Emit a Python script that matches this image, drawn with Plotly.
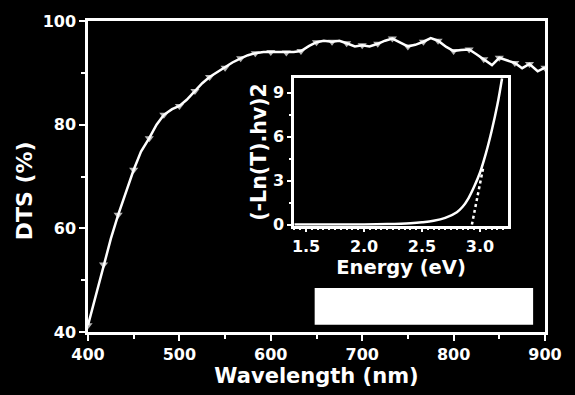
import plotly.graph_objects as go

# Main spectrum
wavelength = [400, 408, 417, 425, 433, 442, 450, 458, 467, 475, 483, 492, 500, 508, 517, 525,
              533, 542, 550, 558, 567, 575, 583, 592, 600, 608, 617, 625, 633, 642, 650, 658,
              667, 675, 683, 692, 700, 708, 717, 725, 733, 742, 750, 758, 767, 775, 783, 792,
              800, 808, 817, 825, 833, 842, 850, 858, 867, 875, 883, 892, 900]
dts = [41.3, 46.8, 53.0, 58.0, 62.6, 67.2, 71.3, 74.8, 77.4, 80.0, 81.9, 83.0, 83.6, 84.8, 86.5, 88.0,
       89.2, 90.2, 91.0, 92.0, 92.8, 93.4, 93.8, 94.0, 94.0, 94.0, 93.9, 94.0, 94.2, 95.2, 95.9, 96.2,
       96.0, 96.2, 95.7, 95.1, 95.3, 95.1, 95.6, 96.2, 96.6, 95.8, 95.1, 95.4, 96.0, 96.7, 96.2, 95.0,
       94.2, 94.4, 94.5, 93.6, 92.6, 91.5, 92.9, 92.4, 91.9, 90.9, 91.7, 90.3, 91.0]

# Inset Tauc plot
energy = [1.40, 1.60, 1.80, 2.00, 2.20, 2.40, 2.50, 2.60, 2.70, 2.80, 2.85, 2.90, 2.95,
          3.00, 3.05, 3.10, 3.15, 3.19]
tauc = [0.0, 0.0, 0.0, 0.01, 0.04, 0.10, 0.16, 0.26, 0.46, 0.85, 1.22, 1.8, 2.6,
        3.56, 4.85, 6.4, 8.2, 10.0]
tangent_e = [2.93, 3.03]
tangent_y = [0.0, 4.0]

# Axis ticks
main_xticks = [400, 500, 600, 700, 800, 900]
main_yticks = [40, 60, 80, 100]
inset_xticks = [1.5, 2.0, 2.5, 3.0]
inset_yticks = [0, 3, 6, 9]

# White box (redaction block) in data coords
box_x = [648, 887]
box_y = [41.4, 48.5]

FONT = "DejaVu Sans"
W = "white"

fig = go.Figure()

marker_sizes = [8 if i % 2 == 0 else 0 for i in range(len(wavelength))]
fig.add_trace(go.Scatter(
    x=wavelength, y=dts, mode="lines+markers",
    line=dict(color=W, width=2.5),
    marker=dict(symbol="triangle-down", size=marker_sizes, color=W, line=dict(width=0)),
    xaxis="x", yaxis="y", showlegend=False))

fig.add_trace(go.Scatter(
    x=energy, y=tauc, mode="lines", line=dict(color=W, width=2.5, shape="spline"),
    xaxis="x2", yaxis="y2", showlegend=False))
fig.add_trace(go.Scatter(
    x=tangent_e, y=tangent_y, mode="lines", line=dict(color=W, width=2.5, dash="dot"),
    xaxis="x2", yaxis="y2", showlegend=False))

fig.add_shape(type="rect", xref="x", yref="y", x0=box_x[0], x1=box_x[1], y0=box_y[0], y1=box_y[1],
              fillcolor=W, line=dict(width=0), layer="above")

fig.add_annotation(text="DTS (%)", xref="paper", yref="paper", x=-0.14, y=0.4525,
                   textangle=-90, showarrow=False, xanchor="center", yanchor="middle",
                   font=dict(family=FONT, size=22, color=W, weight="bold"))

tickfont = dict(family=FONT, size=16, color=W, weight="bold")

fig.update_layout(
    width=575, height=395,
    paper_bgcolor="black", plot_bgcolor="black",
    margin=dict(l=88, r=30, t=16, b=63),
    font=dict(family=FONT, color=W),
    xaxis=dict(
        domain=[0, 1], range=[400, 900], tickvals=main_xticks,
        showgrid=False, zeroline=False, showline=True, linecolor=W, linewidth=2.5, mirror=True,
        ticks="outside", ticklen=6, tickwidth=2, tickcolor=W, tickfont=tickfont,
        minor=dict(dtick=50, tick0=400, ticks="outside", ticklen=4, tickwidth=2, tickcolor=W, showgrid=False),
        title=dict(text="Wavelength (nm)", font=dict(family=FONT, size=21, color=W, weight="bold"), standoff=3),
        anchor="y"),
    yaxis=dict(
        domain=[0, 1], range=[40, 100], tickvals=main_yticks,
        showgrid=False, zeroline=False, showline=True, linecolor=W, linewidth=2.5, mirror=True,
        ticks="outside", ticklen=6, tickwidth=2, tickcolor=W, tickfont=tickfont,
        minor=dict(dtick=10, tick0=40, ticks="outside", ticklen=4, tickwidth=2, tickcolor=W, showgrid=False),
        anchor="x"),
    xaxis2=dict(
        domain=[0.451, 0.919], range=[1.397, 3.241], tickvals=inset_xticks,
        ticktext=["1.5", "2.0", "2.5", "3.0"],
        showgrid=False, zeroline=False, showline=True, linecolor=W, linewidth=2.5, mirror=True,
        ticks="outside", ticklen=4, tickwidth=2, tickcolor=W, tickfont=tickfont,
        minor=dict(dtick=0.05, tick0=1.4, ticks="outside", ticklen=2, tickwidth=1.5, tickcolor=W, showgrid=False),
        title=dict(text="Energy (eV)", font=dict(family=FONT, size=19.5, color=W, weight="bold"), standoff=5),
        anchor="y2"),
    yaxis2=dict(
        domain=[0.342, 0.816], range=[-0.07, 10.0], tickvals=inset_yticks,
        showgrid=False, zeroline=False, showline=True, linecolor=W, linewidth=2.5, mirror=True,
        ticks="outside", ticklen=4, tickwidth=2, tickcolor=W, tickfont=tickfont,
        minor=dict(dtick=1.5, tick0=0, ticks="outside", ticklen=2, tickwidth=1.5, tickcolor=W, showgrid=False),
        title=dict(text="(-Ln(T).hv)2", font=dict(family=FONT, size=20.5, color=W, weight="bold"), standoff=1),
        anchor="x2"),
)

fig.write_html("out.html", config={"displayModeBar": False},
               post_script="document.body.style.margin='0';document.body.style.background='black';")
